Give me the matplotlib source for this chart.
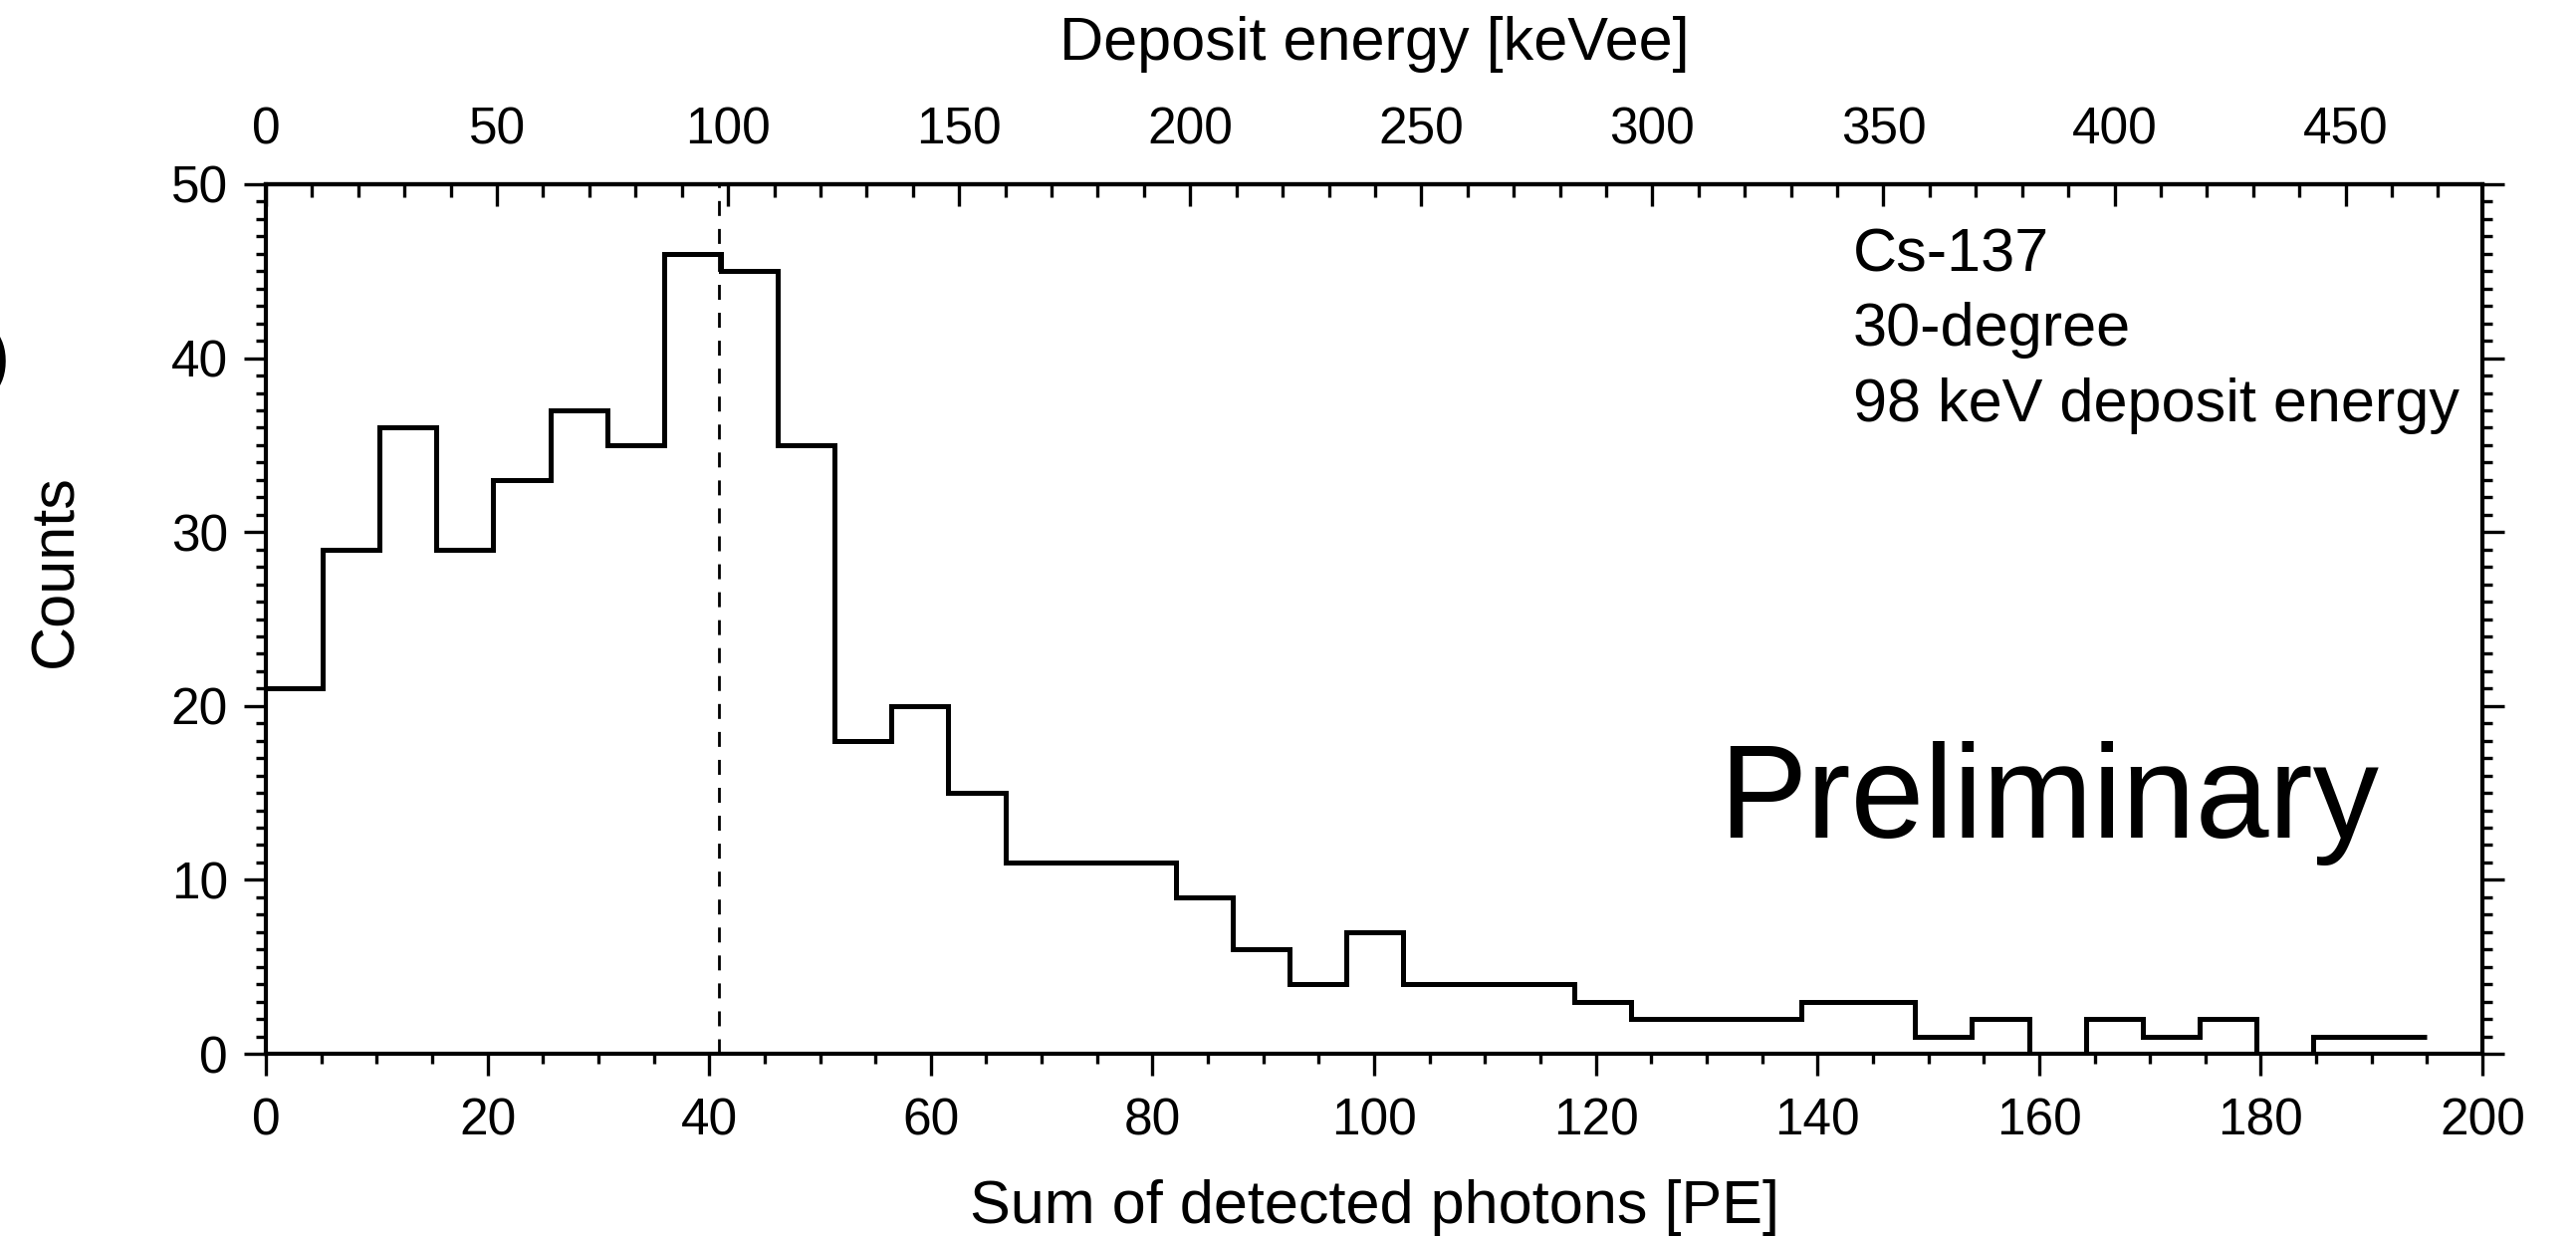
import numpy as np
import matplotlib
matplotlib.use("Agg")
import matplotlib.pyplot as plt
from matplotlib.ticker import MultipleLocator

plt.rcParams['font.family'] = ['Liberation Sans', 'DejaVu Sans']

# histogram: 38 bins of equal width between 0 and 195 PE
bin_lo, bin_hi, n_bins = 0.0, 195.0, 38
counts = [21, 29, 36, 29, 33, 37, 35, 46, 45, 35,
          18, 20, 15, 11, 11, 11, 9, 6, 4, 7,
          4, 4, 4, 3, 2, 2, 2, 3, 3, 1,
          2, 0, 2, 1, 2, 0, 1, 1]

pe_ticks = [0, 20, 40, 60, 80, 100, 120, 140, 160, 180, 200]
kev_ticks = [0, 50, 100, 150, 200, 250, 300, 350, 400, 450]
count_ticks = [0, 10, 20, 30, 40, 50]

pe_per_kev = 0.417      # conversion PE -> keVee for the top axis
deposit_kev = 98        # marked deposit energy
notes = ["Cs-137", "30-degree", "98 keV deposit energy"]

edges = np.linspace(bin_lo, bin_hi, n_bins + 1)

fig = plt.figure(figsize=(25.87, 12.44), dpi=100)
ax = fig.add_axes([0.1032, 0.1495, 0.8605, 0.7018])

ax.stairs(counts, edges, baseline=None, color='black', lw=3.6)
ax.axvline(deposit_kev * pe_per_kev, color='black', lw=2, dashes=(5.4, 4.7))

ax.set_xlim(0, 200)
ax.set_ylim(0, 50)
ax.set_xticks(pe_ticks)
ax.xaxis.set_minor_locator(MultipleLocator(5))
ax.set_yticks(count_ticks)
ax.yaxis.set_minor_locator(MultipleLocator(1))

for s in ax.spines.values():
    s.set_linewidth(3)

ax.tick_params(axis='x', which='both', direction='out', top=False, labelsize=37, width=2.4, pad=16)
ax.tick_params(axis='y', which='both', direction='out', left=True, right=True, labelsize=37, width=2.4, pad=12)
ax.tick_params(which='major', length=15.5)
ax.tick_params(which='minor', length=7.5)

ax.set_xlabel("Sum of detected photons [PE]", fontsize=44, va='center')
ax.xaxis.set_label_coords(0.5, -0.1775)
ax.set_ylabel("Counts", fontsize=44, va='center')
ax.yaxis.set_label_coords(-0.0943, 0.5556)

top = ax.secondary_xaxis('top', functions=(lambda x: x / pe_per_kev, lambda k: k * pe_per_kev))
top.set_xticks(kev_ticks)
top.xaxis.set_minor_locator(MultipleLocator(10))
top.tick_params(which='both', direction='in', labelsize=37, width=2.4, pad=21)
top.tick_params(which='major', length=16)
top.tick_params(which='minor', length=9)
top.spines['top'].set_linewidth(3)
top.set_xlabel("Deposit energy [keVee]", fontsize=44, va='center')
top.xaxis.set_label_coords(0.5, 1.1604, transform=ax.transAxes)

for txt, yb in zip(notes, [0.8992, 0.8144, 0.7274]):
    ax.text(0.716, yb, txt, transform=ax.transAxes, fontsize=44, ha='left', va='baseline')

ax.text(0.6556, 0.2486, "Preliminary", transform=ax.transAxes, fontsize=95.5, ha='left', va='baseline')

# cut-off panel label at the left edge
fig.text(10 / 2587, 1 - 363 / 1244, ")", fontsize=55, ha='right', va='center')

fig.savefig("out.png", dpi=100)
